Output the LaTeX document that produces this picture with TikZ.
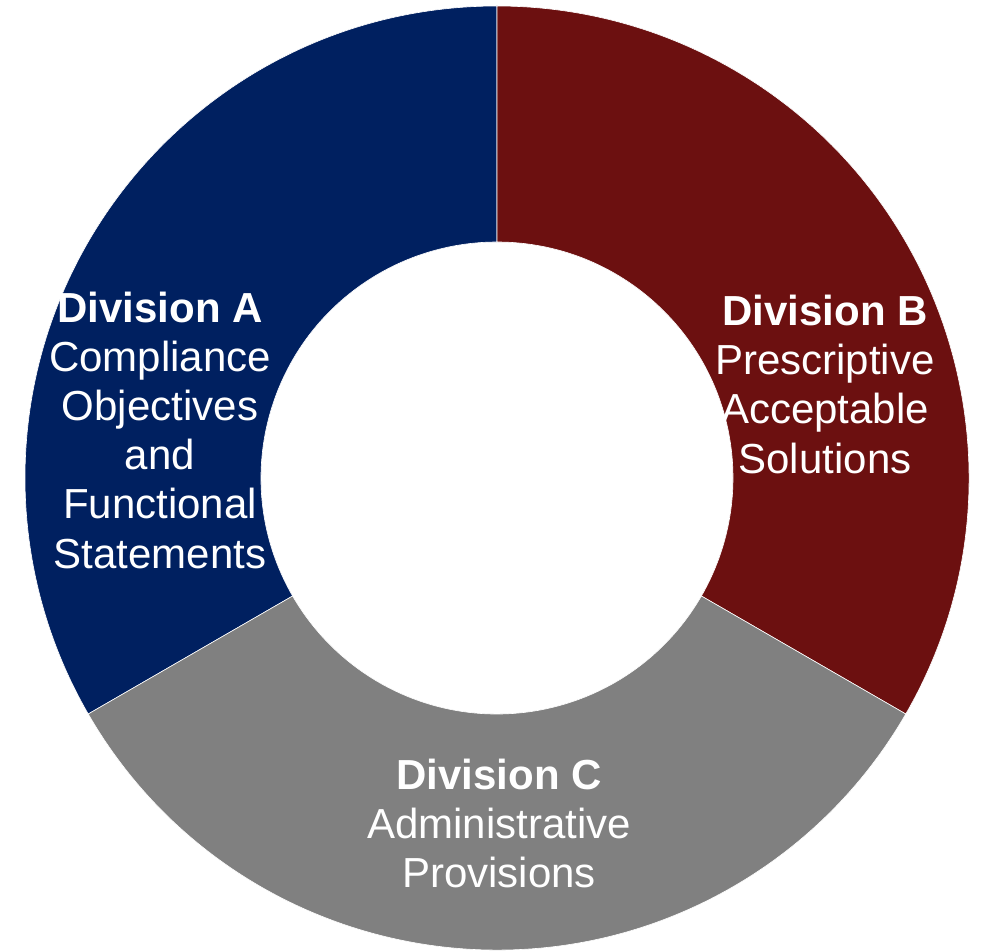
\documentclass[tikz,border=0pt]{standalone}
\usepackage{fontspec}
\setmainfont{Liberation Sans}
\usepackage{tikz}
\usetikzlibrary{positioning}
\definecolor{dblue}{HTML}{002060}
\definecolor{dred}{HTML}{6C1010}
\definecolor{dgray}{HTML}{808080}
\tikzset{seg/.style = {draw=white, line width=0.3pt}}
\tikzset{lbl/.style = {text=white, align=center, font=\fontsize{21}{24.6}\selectfont}}
\newcommand{\ring}[3]{%
  \fill [seg, #3] (#1:236) -- (#1:472) arc [start angle=#1, end angle=#2, radius=472]
        -- (#2:236) arc [start angle=#2, end angle=#1, radius=236] -- cycle;}

\begin{document}
\begin{tikzpicture}[x=0.5pt, y=0.5pt]
    \useasboundingbox (0, 0) rectangle (982, 950);

    \begin{scope}[shift={(497, 472)}]
      \ring{90}{210}{fill=dblue}
      \ring{-30}{90}{fill=dred}
      \ring{210}{330}{fill=dgray}
      \coordinate (ctr) at (0, 0);
    \end{scope}

    \node [lbl] (diva) at (160, 520) {\textbf{Division A}\\Compliance\\Objectives\\and\\Functional\\Statements};
    \node [lbl, anchor=north] (divb) at (825, 662) {\textbf{Division B}\\Prescriptive\\Acceptable\\Solutions};
    \node [lbl, anchor=north] (divc) at (499, 198) {\textbf{Division C}\\Administrative\\Provisions};
  \end{tikzpicture}
\end{document}
